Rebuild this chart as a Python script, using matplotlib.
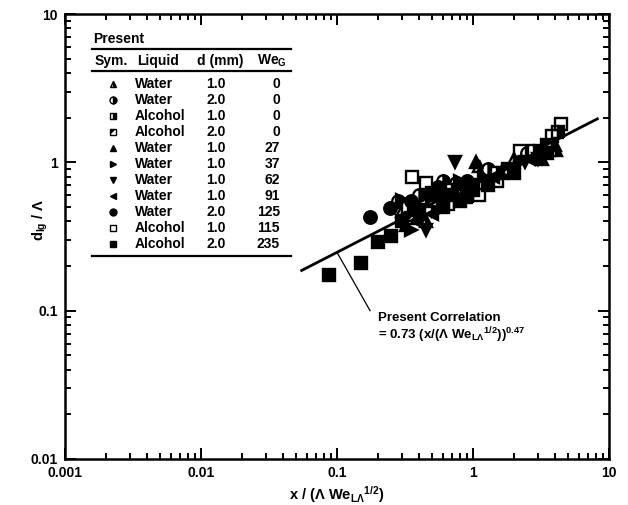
import numpy as np
import matplotlib
matplotlib.use("Agg")
import matplotlib.pyplot as plt
from matplotlib.path import Path

plt.rcParams['font.family'] = ['Liberation Sans', 'DejaVu Sans']
plt.rcParams['font.weight'] = 'bold'
plt.rcParams['mathtext.fontset'] = 'custom'
plt.rcParams['mathtext.rm'] = 'Liberation Sans:bold'
plt.rcParams['mathtext.it'] = 'Liberation Sans:bold'
plt.rcParams['mathtext.bf'] = 'Liberation Sans:bold'
plt.rcParams['mathtext.default'] = 'rm'

# ---------------- data ----------------
liquids = ["Water", "Water", "Alcohol", "Alcohol", "Water", "Water", "Water",
           "Water", "Water", "Alcohol", "Alcohol"]
diam = ["1.0", "2.0", "1.0", "2.0", "1.0", "1.0", "1.0", "1.0", "2.0", "1.0", "2.0"]
weg = ["0", "0", "0", "0", "27", "37", "62", "91", "125", "115", "235"]

x1 = [0.30, 0.55, 1.10, 2.00, 4.10, 0.45]
y1 = [0.47, 0.60, 0.95, 1.05, 1.22, 0.40]
x2 = [0.28, 0.60, 0.75, 1.30, 2.50, 0.40]
y2 = [0.55, 0.75, 0.72, 0.90, 1.15, 0.60]
x3 = [0.33, 0.70, 1.50, 2.80, 4.20, 0.90]
y3 = [0.50, 0.65, 0.85, 1.20, 1.60, 0.58]
x4 = [0.35, 0.50, 0.95, 1.80, 3.50, 0.65]
y4 = [0.42, 0.55, 0.70, 0.90, 1.30, 0.52]
x5 = [0.40, 1.05, 1.60, 3.20, 4.00, 0.32]
y5 = [0.45, 1.00, 0.85, 1.05, 1.30, 0.38]
x6 = [0.30, 0.35, 0.80, 1.20, 2.20, 0.55]
y6 = [0.56, 0.35, 0.75, 0.80, 1.00, 0.47]
x7 = [0.74, 0.45, 0.90, 2.40, 3.00, 0.60]
y7 = [1.00, 0.35, 0.65, 1.00, 1.05, 0.58]
x8 = [0.50, 0.85, 1.40, 2.60, 0.38]
y8 = [0.45, 0.60, 0.80, 1.05, 0.40]
x9 = [0.175, 0.245, 0.55, 0.90, 0.35]
y9 = [0.43, 0.49, 0.68, 0.75, 0.55]
x10 = [0.356, 0.45, 0.60, 1.10, 2.20, 3.80, 4.40, 1.50]
y10 = [0.80, 0.72, 0.55, 0.60, 1.20, 1.50, 1.80, 0.75]
x11 = [0.087, 0.15, 0.20, 0.25, 0.40, 0.60, 0.80, 1.00, 2.00, 3.50, 0.30, 0.50, 0.70, 1.30]
y11 = [0.175, 0.21, 0.29, 0.32, 0.48, 0.50, 0.55, 0.65, 0.85, 1.15, 0.40, 0.62, 0.60, 0.70]

coef, expo = 0.73, 0.47
x_corr_min, x_corr_max = 0.055, 8.2

xs = [x1, x2, x3, x4, x5, x6, x7, x8, x9, x10, x11]
ys = [y1, y2, y3, y4, y5, y6, y7, y8, y9, y10, y11]

# ---------------- styles ----------------
tri_ul = Path([(-1, -1), (-1, 1), (1, 1), (-1, -1)],
              [Path.MOVETO, Path.LINETO, Path.LINETO, Path.CLOSEPOLY])
styles = [
    dict(marker='^', fillstyle='right'),
    dict(marker='o', fillstyle='right'),
    dict(marker='s', fillstyle='right'),
    dict(marker='s', fillstyle='none'),   # diagonal half, overlay below
    dict(marker='^'),
    dict(marker='>'),
    dict(marker='v'),
    dict(marker='<'),
    dict(marker='o'),
    dict(marker='s', fillstyle='none'),
    dict(marker='s'),
]

fig = plt.figure(figsize=(6.28, 5.05), dpi=100)
ax = fig.add_axes([65/628, 1-459/505, 544/628, 445/505])
ax.set_xscale('log')
ax.set_yscale('log')
ax.set_xlim(0.001, 10)
ax.set_ylim(0.01, 10)

ms = 9
mew = 1.7
for i, (xx, yy) in enumerate(zip(xs, ys)):
    st = styles[i]
    ax.plot(xx, yy, linestyle='none', color='black', markerfacecolor='black',
            markerfacecoloralt='white', markeredgecolor='black',
            markersize=ms, markeredgewidth=mew, zorder=3, **st)
    if i == 3:
        ax.plot(xx, yy, linestyle='none', marker=tri_ul, color='black',
                markersize=ms*0.8, markeredgewidth=0, zorder=4)

# correlation line
xc = np.logspace(np.log10(x_corr_min), np.log10(x_corr_max), 100)
ax.plot(xc, coef * xc**expo, color='black', lw=2.0, zorder=2)

# leader and annotation
xa = 0.1
ax.plot([xa, 0.175], [coef * xa**expo, 0.1], color='black', lw=0.9)
afs = 9.5
ax.text(0.2, 0.089, "Present Correlation", fontsize=afs, fontweight='bold',
        va='center', ha='left')
ax.text(0.2, 0.0685, r"= 0.73 (x/($\Lambda$ We$_{\mathrm{L\Lambda}}$$^{\mathrm{1/2}}$))$^{\mathrm{0.47}}$",
        fontsize=afs, fontweight='bold', va='center', ha='left')

# ticks
ax.tick_params(which='both', direction='in', top=True, right=True, width=1.4)
ax.tick_params(which='major', length=8, labelsize=10, pad=5)
ax.tick_params(which='minor', length=4.5)
for s in ax.spines.values():
    s.set_linewidth(1.8)
ax.set_xticks([0.001, 0.01, 0.1, 1, 10])
ax.set_xticklabels(["0.001", "0.01", "0.1", "1", "10"])
ax.set_yticks([0.01, 0.1, 1, 10])
ax.set_yticklabels(["0.01", "0.1", "1", "10"])
for lab in ax.get_xticklabels() + ax.get_yticklabels():
    lab.set_fontweight('bold')

ax.set_xlabel(r"x / ($\Lambda$ We$_{\mathrm{L\Lambda}}$$^{\mathrm{1/2}}$)", fontsize=10.5,
              fontweight='bold', labelpad=3)
ax.set_ylabel(r"d$_{\mathrm{lg}}$ / $\Lambda$", fontsize=10.5, fontweight='bold',
              va='center', ha='center')
ax.yaxis.set_label_coords((40 - 65) / 544, (459 - 220) / 445)

# ---------------- legend table ----------------
def ax_xy(px, py):
    return ((px - 65) / 544, (459 - py) / 445)

T = ax.transAxes
fs = 10
tx, ty = ax_xy(93, 39)
ax.text(tx, ty, "Present", transform=T, fontsize=fs, fontweight='bold', va='center', ha='left')
for py in (49, 71, 256):
    xa0, yy0 = ax_xy(92, py)
    xa1, _ = ax_xy(291, py)
    ax.plot([xa0, xa1], [yy0, yy0], transform=T, color='black', lw=1.6, clip_on=False)
_, hy = ax_xy(0, 61)
ax.text(ax_xy(95, 0)[0], hy, "Sym.", transform=T, fontsize=fs, fontweight='bold', va='center', ha='left')
ax.text(ax_xy(137, 0)[0], hy, "Liquid", transform=T, fontsize=fs, fontweight='bold', va='center', ha='left')
ax.text(ax_xy(220, 0)[0], hy, "d (mm)", transform=T, fontsize=fs, fontweight='bold', va='center', ha='center')
ax.text(ax_xy(287, 0)[0], hy, r"We$_{\mathrm{G}}$", transform=T, fontsize=fs, fontweight='bold', va='center', ha='right')

sx = ax_xy(113, 0)[0]
lx = ax_xy(135, 0)[0]
dx = ax_xy(216, 0)[0]
wx = ax_xy(280, 0)[0]
lms = 5
for i in range(len(liquids)):
    _, ry = ax_xy(0, 84 + 16 * i)
    st = styles[i]
    ax.plot([sx], [ry], transform=T, linestyle='none', color='black',
            markerfacecolor='black', markerfacecoloralt='white', markeredgecolor='black',
            markersize=lms, markeredgewidth=1.0, clip_on=False, **st)
    if i == 3:
        ax.plot([sx], [ry], transform=T, linestyle='none', marker=tri_ul, color='black',
                markersize=lms*0.8, markeredgewidth=0, clip_on=False)
    ax.text(lx, ry, liquids[i], transform=T, fontsize=fs, fontweight='bold', va='center', ha='left')
    ax.text(dx, ry, diam[i], transform=T, fontsize=fs, fontweight='bold', va='center', ha='center')
    ax.text(wx, ry, weg[i], transform=T, fontsize=fs, fontweight='bold', va='center', ha='right')

fig.savefig("out.png", dpi=100)
